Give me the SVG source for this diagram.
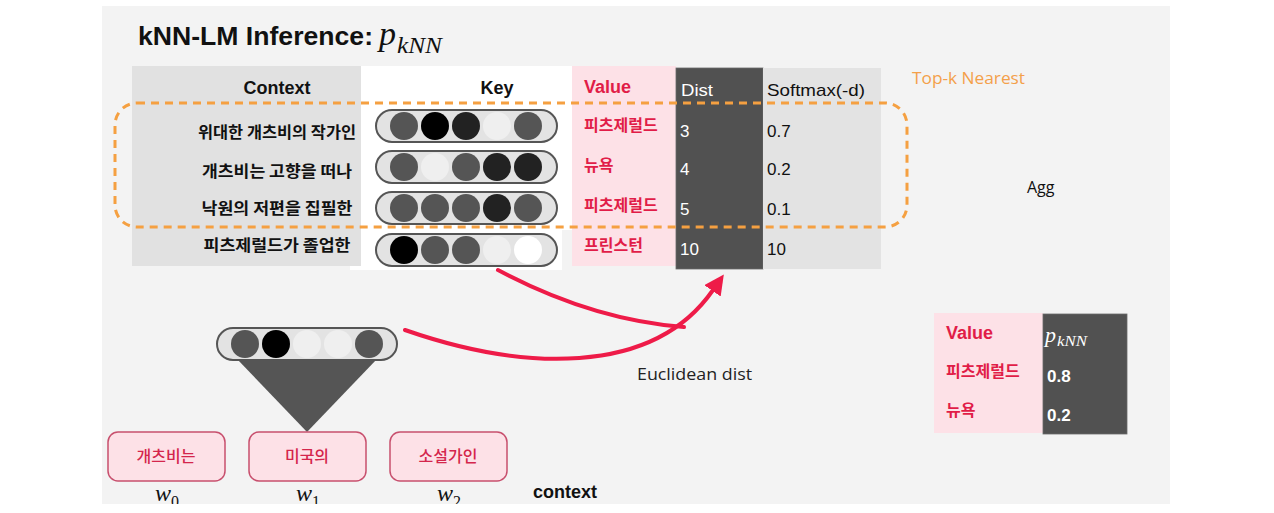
<svg xmlns="http://www.w3.org/2000/svg" width="1274" height="513" viewBox="0 0 1274 513">
<defs>
<style>
.hd{font-family:"Liberation Sans",Arial,sans-serif;font-weight:bold;font-size:18px;fill:#111}
.kr{font-family:"Noto Sans CJK KR","Noto Sans",sans-serif;font-weight:bold;font-size:16px;fill:#111}
.red{fill:#e11d48}
.num{font-family:"Liberation Sans",Arial,sans-serif;font-size:17px}
.w{fill:#fff}
.blk{fill:#111}
.pill{fill:#e3e3e3;stroke:#555;stroke-width:2}
.cal{font-family:"Open Sans","Liberation Sans",sans-serif;font-size:16px}
.math{font-family:"Liberation Serif","Times New Roman",serif;font-style:italic}
.sub{font-family:"Liberation Serif","Times New Roman",serif;font-style:normal;font-size:16px;fill:#111}
.box{fill:#fde1e7;stroke:#c8506e;stroke-width:1.5}
.bt{font-family:"Noto Sans CJK KR","Noto Sans",sans-serif;font-weight:500;font-size:16px;fill:#d4264c}
.arr{fill:none;stroke:#ee1b48;stroke-width:4;stroke-linecap:round}
</style>
<marker id="ah" markerUnits="userSpaceOnUse" markerWidth="22" markerHeight="22" refX="1" refY="10" orient="auto">
<path d="M0,0 L20,10 L0,20 Z" fill="#ee1b48"/>
</marker>
<clipPath id="slide"><rect x="102" y="6" width="1068" height="498"/></clipPath>
</defs>
<rect width="1274" height="513" fill="#ffffff"/>
<g clip-path="url(#slide)">
<rect x="102" y="6" width="1068" height="498" fill="#f3f3f3"/>

<g id="title">
<text x="138" y="45" font-family="Liberation Sans,Arial,sans-serif" font-weight="bold" font-size="25" fill="#111" textLength="235" lengthAdjust="spacingAndGlyphs">kNN-LM Inference:</text>
<text x="379" y="45" class="math" font-size="34" fill="#111">p</text>
<text x="397" y="53" class="math" font-size="24" fill="#111" textLength="45" lengthAdjust="spacingAndGlyphs">kNN</text>
</g>

<g id="table">
<rect x="132" y="66" width="229" height="200" fill="#e1e1e1"/>
<path d="M361,66 H572 V230 H562 V270 H350 V266 H361 Z" fill="#ffffff"/>
<rect x="572" y="66" width="104" height="200" fill="#fde1e7"/>
<rect x="676" y="68" width="87" height="201" fill="#515151" stroke="#6a6a6a" stroke-width="0.8"/>
<rect x="763" y="68" width="118" height="201" fill="#e3e3e3"/>

<text x="277" y="94" class="hd" text-anchor="middle">Context</text>
<text x="497" y="94" class="hd" text-anchor="middle">Key</text>
<text x="584" y="93" class="hd red" font-size="17">Value</text>
<text x="681" y="96" class="num w" textLength="32" lengthAdjust="spacingAndGlyphs">Dist</text>
<text x="767" y="96" class="num blk" textLength="98" lengthAdjust="spacingAndGlyphs">Softmax(-d)</text>

<text x="277" y="138" class="kr" text-anchor="middle" textLength="158" lengthAdjust="spacingAndGlyphs">위대한 개츠비의 작가인</text>
<text x="277" y="177" class="kr" text-anchor="middle" textLength="150" lengthAdjust="spacingAndGlyphs">개츠비는 고향을 떠나</text>
<text x="277" y="214" class="kr" text-anchor="middle" textLength="151" lengthAdjust="spacingAndGlyphs">낙원의 저편을 집필한</text>
<text x="277" y="251" class="kr" text-anchor="middle" textLength="147" lengthAdjust="spacingAndGlyphs">피츠제럴드가 졸업한</text>

<text x="584" y="131" class="kr red">피츠제럴드</text>
<text x="584" y="171" class="kr red">뉴욕</text>
<text x="584" y="211" class="kr red">피츠제럴드</text>
<text x="584" y="251" class="kr red">프린스턴</text>

<text x="680" y="137" class="num w">3</text>
<text x="680" y="175" class="num w">4</text>
<text x="680" y="215" class="num w">5</text>
<text x="680" y="255" class="num w">10</text>

<text x="767" y="137" class="num blk">0.7</text>
<text x="767" y="175" class="num blk">0.2</text>
<text x="767" y="215" class="num blk">0.1</text>
<text x="767" y="255" class="num blk">10</text>
</g>

<g id="key1">
<rect x="376" y="110" width="181" height="32" rx="16" class="pill"/>
<circle cx="404" cy="126" r="14" fill="#555"/><circle cx="435" cy="126" r="14" fill="#000"/><circle cx="466" cy="126" r="14" fill="#222"/><circle cx="497" cy="126" r="14" fill="#efefef"/><circle cx="528" cy="126" r="14" fill="#555"/>
</g>
<g id="key2">
<rect x="376" y="151" width="181" height="32" rx="16" class="pill"/>
<circle cx="404" cy="167" r="14" fill="#555"/><circle cx="435" cy="167" r="14" fill="#efefef"/><circle cx="466" cy="167" r="14" fill="#555"/><circle cx="497" cy="167" r="14" fill="#222"/><circle cx="528" cy="167" r="14" fill="#222"/>
</g>
<g id="key3">
<rect x="376" y="192" width="181" height="32" rx="16" class="pill"/>
<circle cx="404" cy="208" r="14" fill="#555"/><circle cx="435" cy="208" r="14" fill="#555"/><circle cx="466" cy="208" r="14" fill="#555"/><circle cx="497" cy="208" r="14" fill="#222"/><circle cx="528" cy="208" r="14" fill="#555"/>
</g>
<g id="key4">
<rect x="376" y="234" width="181" height="32" rx="16" class="pill"/>
<circle cx="404" cy="250" r="14" fill="#000"/><circle cx="435" cy="250" r="14" fill="#555"/><circle cx="466" cy="250" r="14" fill="#555"/><circle cx="497" cy="250" r="14" fill="#efefef"/><circle cx="528" cy="250" r="14" fill="#fff"/>
</g>

<g id="topk">
<rect x="115" y="103" width="792" height="124" rx="22" fill="none" stroke="#f5a041" stroke-width="3" stroke-dasharray="8 6"/>
<text x="912" y="84" class="cal" fill="#f4a04a" textLength="113" lengthAdjust="spacingAndGlyphs">Top-k Nearest</text>
</g>

<g id="agg">
<text x="1027" y="193" class="cal" fill="#111">Agg</text>
</g>

<g id="query">
<polygon points="237,359 377,359 307,432" fill="#555"/>
<rect x="217" y="328" width="180" height="32" rx="16" class="pill"/>
<circle cx="245" cy="344" r="14" fill="#555"/><circle cx="276" cy="344" r="14" fill="#000"/><circle cx="307" cy="344" r="14" fill="#efefef"/><circle cx="338" cy="344" r="14" fill="#efefef"/><circle cx="369" cy="344" r="14" fill="#555"/>
</g>

<g id="connectors">
<path d="M498,270 C560,303 620,322 684,327" class="arr"/>
<path d="M405,330 C520,370 652,378 713,290" class="arr" marker-end="url(#ah)"/>
<text x="637" y="380" class="cal" fill="#222" textLength="115" lengthAdjust="spacingAndGlyphs">Euclidean dist</text>
</g>

<g id="w0">
<rect x="108" y="432" width="117" height="49" rx="10" class="box"/>
<text x="166" y="462" class="bt" text-anchor="middle">개츠비는</text>
<text x="155" y="501" class="math" font-size="24" fill="#111">w</text><text x="171" y="507" class="sub">0</text>
</g>
<g id="w1">
<rect x="249" y="432" width="117" height="49" rx="10" class="box"/>
<text x="307" y="462" class="bt" text-anchor="middle">미국의</text>
<text x="296" y="501" class="math" font-size="24" fill="#111">w</text><text x="312" y="507" class="sub">1</text>
</g>
<g id="w2">
<rect x="390" y="432" width="117" height="49" rx="10" class="box"/>
<text x="448" y="462" class="bt" text-anchor="middle">소설가인</text>
<text x="437" y="501" class="math" font-size="24" fill="#111">w</text><text x="453" y="507" class="sub">2</text>
</g>
<g id="context-label">
<text x="533" y="498" class="hd" font-size="17">context</text>
</g>

<g id="result">
<rect x="934" y="313" width="109" height="120" fill="#fde1e7"/>
<rect x="1043" y="314" width="84" height="120" fill="#515151" stroke="#6a6a6a" stroke-width="0.8"/>
<text x="946" y="339" class="hd red" font-size="17">Value</text>
<text x="946" y="377" class="kr red">피츠제럴드</text>
<text x="946" y="416" class="kr red">뉴욕</text>
<text x="1045" y="342" class="math" font-size="22" fill="#fff">p</text>
<text x="1057" y="346" class="math" font-size="15" fill="#fff" textLength="30" lengthAdjust="spacingAndGlyphs">kNN</text>
<text x="1047" y="382" class="num w" font-weight="bold">0.8</text>
<text x="1047" y="421" class="num w" font-weight="bold">0.2</text>
</g>
</g>
</svg>
